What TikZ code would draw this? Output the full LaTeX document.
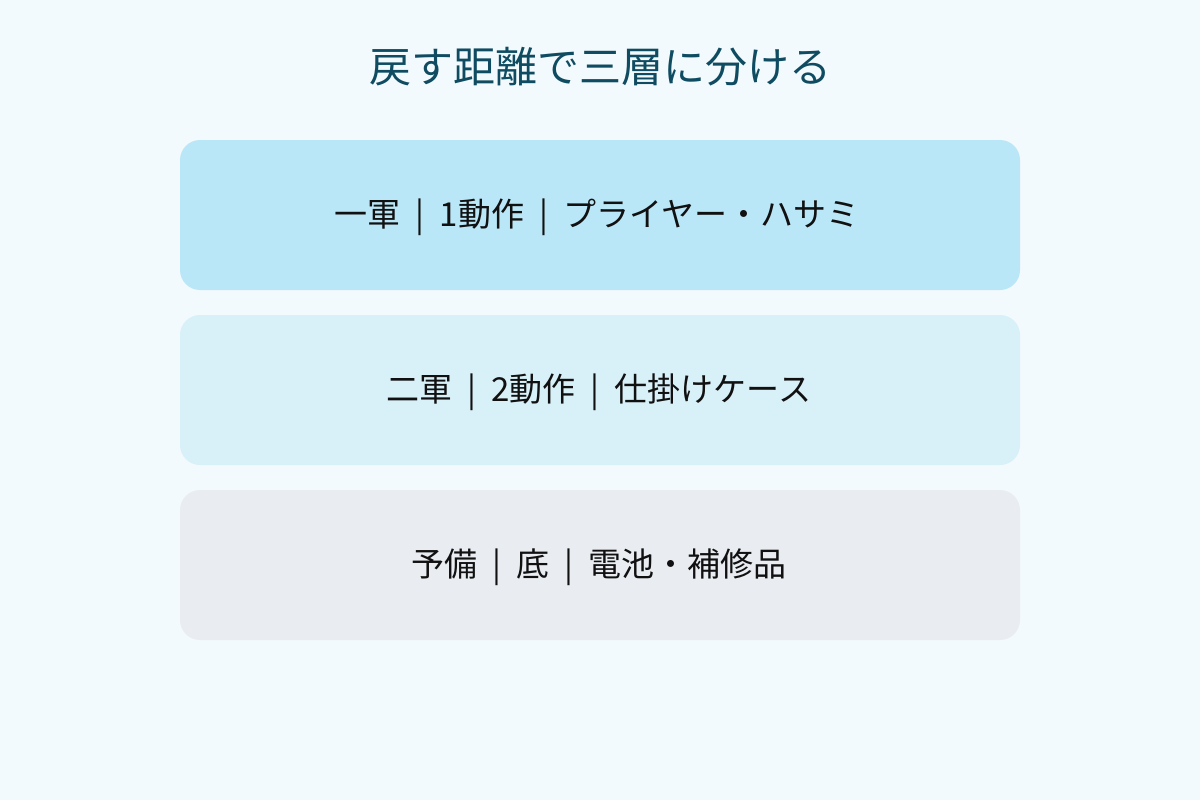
\documentclass[tikz,border=0pt]{standalone}
\usepackage{fontspec}
\setmainfont{Noto Sans CJK JP}
\definecolor{bg}{HTML}{F3FAFD}
\definecolor{titlec}{HTML}{0F4C61}
\definecolor{boxa}{HTML}{BAE7F7}
\definecolor{boxb}{HTML}{D8F0F8}
\definecolor{boxc}{HTML}{E9EDF1}
\definecolor{txt}{HTML}{111111}
\newcommand{\barsep}{\hspace{15pt}|\hspace{15pt}}
\begin{document}
\begin{tikzpicture}[x=1pt,y=-1pt,
  tier/.style={rounded corners=20pt,minimum width=840pt,minimum height=150pt,inner sep=0pt,text=txt,font=\fontsize{33pt}{40pt}\selectfont}]
\useasboundingbox (0,0) rectangle (1200,800);
\fill[bg] (0,0) rectangle (1200,800);
\node[text=titlec,font=\fontsize{42pt}{50pt}\selectfont] (title) at (600,67) {戻す距離で三層に分ける};
\node[tier,fill=boxa] (t1) at (600,215) {};
\node[tier,fill=boxb] (t2) at (600,390) {};
\node[tier,fill=boxc] (t3) at (600,565) {};
\node[text=txt,font=\fontsize{33pt}{40pt}\selectfont] (l1) at (597,217) {一軍\barsep 1動作\barsep プライヤー・ハサミ};
\node[text=txt,font=\fontsize{33pt}{40pt}\selectfont] (l2) at (599,392) {二軍\barsep 2動作\barsep 仕掛けケース};
\node[text=txt,font=\fontsize{33pt}{40pt}\selectfont] (l3) at (599,567) {予備\barsep 底\barsep 電池・補修品};
\end{tikzpicture}
\end{document}
